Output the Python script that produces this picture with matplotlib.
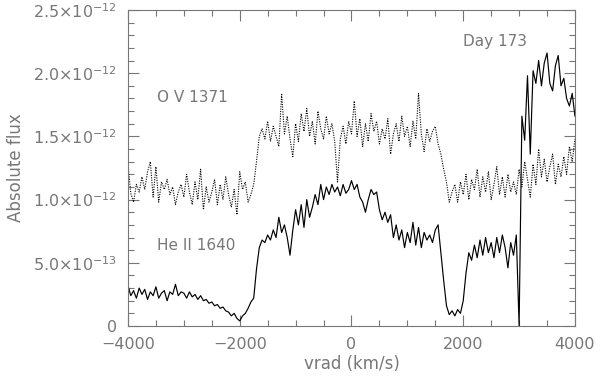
import matplotlib

matplotlib.use("Agg")
import matplotlib.pyplot as plt  # noqa: E402
import numpy as np  # noqa: E402
from matplotlib.ticker import FixedLocator, MultipleLocator  # noqa: E402

# velocity grid, km/s (one sample every 50 km/s)
VEL_START, VEL_STOP, VEL_STEP = -4000, 4000, 50

# He II 1640 flux, units of 1e-12
he2_flux = [
    0.32, 0.24, 0.28, 0.22, 0.30, 0.25, 0.29, 0.21, 0.27, 0.24, 0.31, 0.22, 0.26, 0.28, 0.20, 0.27, 0.25, 0.33, 0.24, 0.27,
    0.26, 0.22, 0.27, 0.23, 0.25, 0.21, 0.24, 0.20, 0.21, 0.18, 0.19, 0.16, 0.17, 0.14, 0.15, 0.12, 0.11, 0.08, 0.10, 0.06,
    0.04, 0.08, 0.10, 0.14, 0.19, 0.22, 0.45, 0.62, 0.68, 0.66, 0.72, 0.68, 0.76, 0.70, 0.86, 0.74, 0.80, 0.70, 0.56, 0.76,
    0.92, 0.80, 0.96, 0.78, 1.00, 0.86, 0.94, 1.04, 0.96, 1.12, 1.00, 1.10, 1.04, 1.12, 1.06, 1.10, 1.03, 1.12, 1.05, 1.08,
    1.15, 1.08, 1.12, 1.02, 0.98, 0.90, 1.00, 1.08, 1.04, 1.06, 0.92, 0.84, 0.90, 0.82, 0.88, 0.70, 0.80, 0.68, 0.76, 0.62,
    0.74, 0.66, 0.82, 0.64, 0.78, 0.62, 0.74, 0.68, 0.72, 0.66, 0.76, 0.80, 0.58, 0.36, 0.16, 0.09, 0.12, 0.08, 0.13, 0.10,
    0.20, 0.42, 0.58, 0.52, 0.64, 0.54, 0.68, 0.56, 0.70, 0.58, 0.66, 0.54, 0.70, 0.58, 0.72, 0.62, 0.46, 0.66, 0.56, 0.72,
    0.00, 1.66, 1.47, 1.98, 1.36, 2.02, 1.92, 2.10, 1.90, 2.08, 2.16, 1.92, 1.86, 2.06, 2.14, 1.90, 1.96, 1.80, 1.74, 1.84,
    1.66,
]

# O V 1371 flux, units of 1e-12
o5_flux = [
    1.28, 1.05, 0.98, 1.12, 1.06, 1.18, 1.08, 1.22, 1.30, 1.02, 1.26, 0.98, 1.14, 1.08, 1.16, 1.04, 1.10, 0.96, 1.06, 1.12,
    1.02, 1.20, 1.06, 0.96, 1.14, 1.00, 1.24, 0.92, 1.10, 0.98, 1.06, 1.16, 0.96, 1.12, 1.00, 1.18, 1.04, 0.94, 1.08, 0.88,
    1.22, 1.08, 1.14, 0.98, 1.04, 1.12, 1.30, 1.50, 1.56, 1.48, 1.62, 1.46, 1.58, 1.50, 1.42, 1.84, 1.52, 1.66, 1.48, 1.34,
    1.60, 1.46, 1.68, 1.54, 1.72, 1.50, 1.62, 1.44, 1.70, 1.56, 1.48, 1.66, 1.52, 1.60, 1.46, 1.14, 1.48, 1.58, 1.44, 1.62,
    1.52, 1.78, 1.50, 1.64, 1.42, 1.60, 1.46, 1.68, 1.54, 1.62, 1.44, 1.56, 1.48, 1.64, 1.36, 1.52, 1.60, 1.46, 1.66, 1.50,
    1.58, 1.42, 1.62, 1.48, 1.84, 1.52, 1.38, 1.56, 1.46, 1.54, 1.58, 1.44, 1.36, 1.24, 1.14, 0.98, 1.06, 1.12, 0.98, 1.14,
    1.04, 1.20, 1.00, 1.16, 1.08, 1.24, 1.02, 1.18, 1.06, 1.22, 1.00, 1.12, 1.26, 1.04, 1.18, 1.02, 1.20, 1.06, 1.14, 1.04,
    1.24, 1.10, 1.30, 1.16, 1.02, 1.28, 1.12, 1.40, 1.18, 1.32, 1.14, 1.26, 1.36, 1.12, 1.28, 1.18, 1.34, 1.20, 1.42, 1.30,
    1.48,
]

y_ticks = [0.0, 0.5, 1.0, 1.5, 2.0, 2.5]
y_ticklabels = ["0", r"5.0$\times$10$^{-13}$", r"1.0$\times$10$^{-12}$",
                r"1.5$\times$10$^{-12}$", r"2.0$\times$10$^{-12}$", r"2.5$\times$10$^{-12}$"]
x_ticks = [-4000, -2000, 0, 2000, 4000]
x_ticklabels = ["\u22124000", "\u22122000", "0", "2000", "4000"]

GREY = "#777777"
vel = np.arange(VEL_START, VEL_STOP + VEL_STEP, VEL_STEP)

fig = plt.figure(figsize=(6.0, 3.82), dpi=100)
ax = fig.add_axes([0.2133, 0.1466, 0.745, 0.8272])

ax.plot(vel, o5_flux, color="black", linewidth=0.8, linestyle=(0, (1, 1.2)))
ax.plot(vel, he2_flux, color="black", linewidth=0.85)

ax.set_xlim(-4000, 4000)
ax.set_ylim(0, 2.5)

ax.xaxis.set_major_locator(FixedLocator(x_ticks))
ax.set_xticklabels(x_ticklabels)
ax.xaxis.set_minor_locator(MultipleLocator(500))
ax.yaxis.set_major_locator(FixedLocator(y_ticks))
ax.set_yticklabels(y_ticklabels)
ax.yaxis.set_minor_locator(MultipleLocator(0.1))

ax.tick_params(which="both", direction="in", top=True, right=True,
               colors=GREY, labelcolor=GREY, labelsize=11.5, width=0.8)
ax.tick_params(which="major", length=8, pad=8)
ax.tick_params(which="minor", length=4)
for sp in ax.spines.values():
    sp.set_color(GREY)
    sp.set_linewidth(0.8)

ax.set_xlabel("vrad (km/s)", color=GREY, fontsize=12, labelpad=2)
ax.set_ylabel("Absolute flux", color=GREY, fontsize=12, labelpad=6)

ax.text(-3480, 1.81, "O V 1371", color=GREY, fontsize=11, va="center")
ax.text(-3480, 0.64, "He II 1640", color=GREY, fontsize=11, va="center")
ax.text(1990, 2.25, "Day 173", color=GREY, fontsize=11, va="center")

fig.savefig("out.png", dpi=100)
